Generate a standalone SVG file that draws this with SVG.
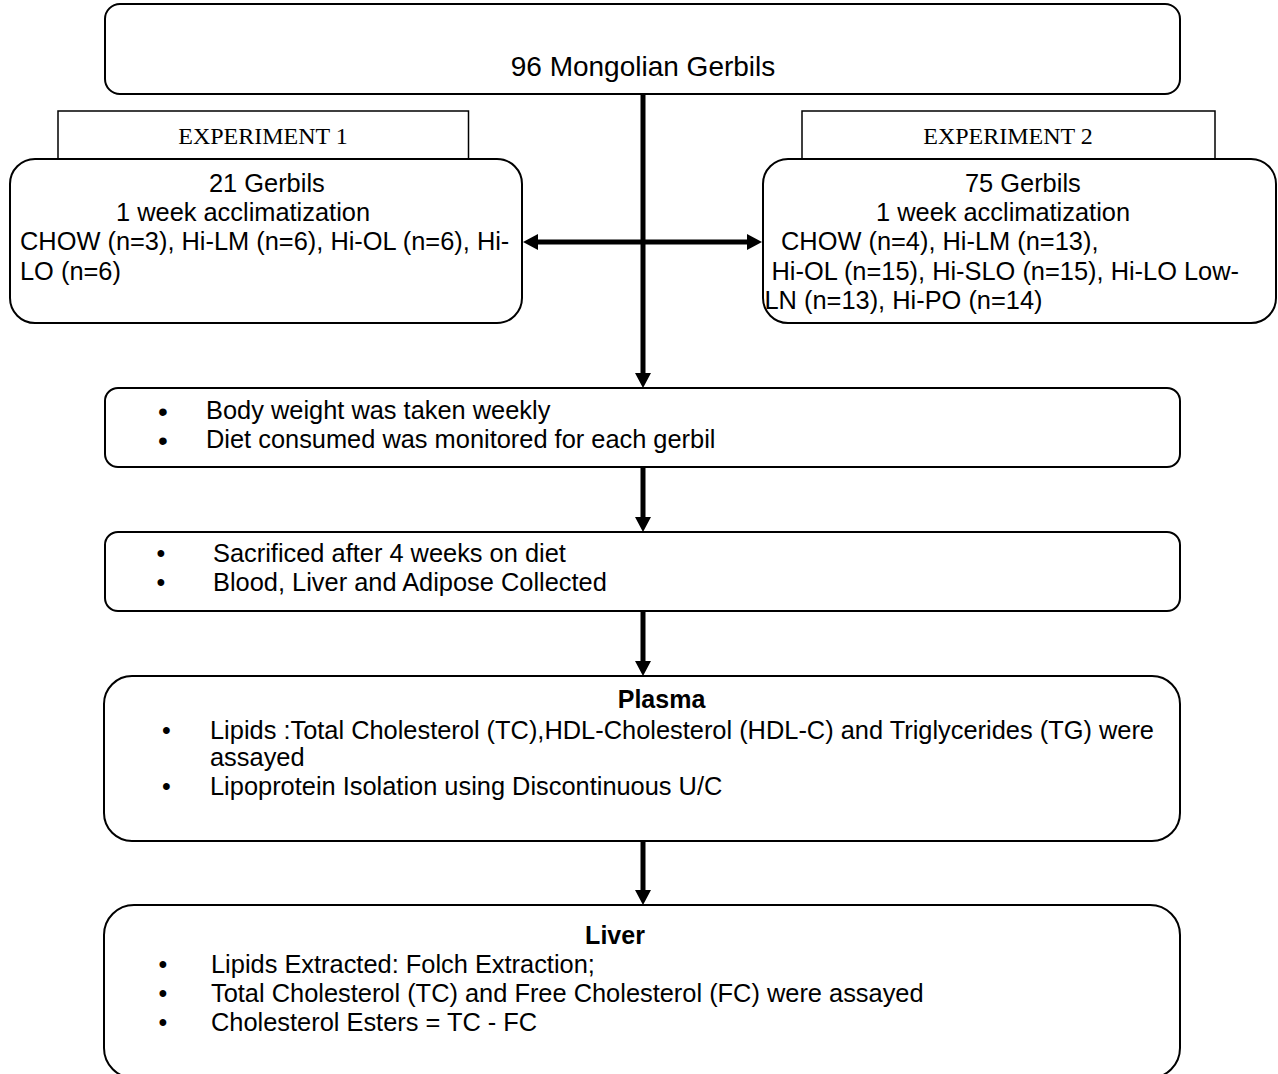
<svg xmlns="http://www.w3.org/2000/svg" width="1278" height="1074" viewBox="0 0 1278 1074">
<style>
.box{fill:#fff;stroke:#000;stroke-width:2}
.hdr{fill:#fff;stroke:#000;stroke-width:1.5}
.t{font-family:"Liberation Sans",Arial,sans-serif;font-size:25.4px;fill:#000}
.b{font-family:"Liberation Sans",Arial,sans-serif;font-size:25px;font-weight:bold;fill:#000}
.title{font-family:"Liberation Sans",Arial,sans-serif;font-size:28px;fill:#000}
.serif{font-family:"Liberation Serif","Times New Roman",serif;font-size:24px;fill:#000}
.bul{font-family:"Liberation Sans",Arial,sans-serif;font-size:25px;fill:#000;text-anchor:middle}
.bulL{font-family:"Liberation Sans",Arial,sans-serif;font-size:28px;fill:#000;text-anchor:middle}
.c{fill:none;stroke:#000;stroke-width:5}
</style>
<defs>
<marker id="ah" markerUnits="userSpaceOnUse" markerWidth="16" markerHeight="16" refX="5" refY="8" orient="auto-start-reverse">
<path d="M0,0 L15,8 L0,16 Z" fill="#000"/>
</marker>
</defs>
<rect width="1278" height="1074" fill="#fff"/>

<g id="connectors">
<line class="c" x1="643" y1="94" x2="643" y2="378" marker-end="url(#ah)"/>
<line class="c" x1="533" y1="242" x2="752" y2="242" marker-start="url(#ah)" marker-end="url(#ah)"/>
<line class="c" x1="643" y1="467" x2="643" y2="522" marker-end="url(#ah)"/>
<line class="c" x1="643" y1="611" x2="643" y2="666" marker-end="url(#ah)"/>
<line class="c" x1="643" y1="841" x2="643" y2="895" marker-end="url(#ah)"/>
</g>

<g id="n-gerbils">
<rect class="box" x="105" y="4" width="1075" height="90" rx="15" ry="15"/>
<text class="title" x="643" y="76" text-anchor="middle">96 Mongolian Gerbils</text>
</g>

<g id="n-exp1">
<rect class="hdr" x="58" y="111" width="410.5" height="48"/>
<text class="serif" x="263" y="144" text-anchor="middle">EXPERIMENT 1</text>
<rect class="box" x="10" y="159" width="512" height="164" rx="25" ry="25"/>
<text class="t" x="209" y="192">21 Gerbils</text>
<text class="t" x="116" y="221">1 week acclimatization</text>
<text class="t" x="20" y="250">CHOW (n=3), Hi-LM (n=6), Hi-OL (n=6), Hi-</text>
<text class="t" x="20" y="280">LO (n=6)</text>
</g>

<g id="n-exp2">
<rect class="hdr" x="802" y="111" width="413" height="48"/>
<text class="serif" x="1008" y="144" text-anchor="middle">EXPERIMENT 2</text>
<rect class="box" x="763" y="159" width="513" height="164" rx="25" ry="25"/>
<text class="t" x="965" y="192">75 Gerbils</text>
<text class="t" x="876" y="221">1 week acclimatization</text>
<text class="t" x="781" y="250">CHOW (n=4), Hi-LM (n=13),</text>
<text class="t" x="771.5" y="280">Hi-OL (n=15), Hi-SLO (n=15), Hi-LO Low-</text>
<text class="t" x="764.5" y="309">LN (n=13), Hi-PO (n=14)</text>
</g>

<g id="n-monitor">
<rect class="box" x="105" y="388" width="1075" height="79" rx="13" ry="13"/>
<text class="bulL" x="163" y="421">•</text>
<text class="bulL" x="163" y="450">•</text>
<text class="t" x="206" y="419">Body weight was taken weekly</text>
<text class="t" x="206" y="448">Diet consumed was monitored for each gerbil</text>
</g>

<g id="n-sacrifice">
<rect class="box" x="105" y="532" width="1075" height="79" rx="13" ry="13"/>
<text class="bul" x="161" y="562">•</text>
<text class="bul" x="161" y="591">•</text>
<text class="t" x="213" y="562">Sacrificed after 4 weeks on diet</text>
<text class="t" x="213" y="591">Blood, Liver and Adipose Collected</text>
</g>

<g id="n-plasma">
<rect class="box" x="104" y="676" width="1076" height="165" rx="28" ry="28"/>
<text class="b" x="661.5" y="708" text-anchor="middle">Plasma</text>
<text class="bul" x="166.5" y="739">•</text>
<text class="bul" x="166.5" y="795">•</text>
<text class="t" x="210" y="739">Lipids :Total Cholesterol (TC),HDL-Cholesterol (HDL-C) and Triglycerides (TG) were</text>
<text class="t" x="210" y="766">assayed</text>
<text class="t" x="210" y="795">Lipoprotein Isolation using Discontinuous U/C</text>
</g>

<g id="n-liver">
<rect class="box" x="104" y="905" width="1076" height="173" rx="30" ry="30"/>
<text class="b" x="615" y="944" text-anchor="middle">Liver</text>
<text class="bul" x="163" y="973">•</text>
<text class="bul" x="163" y="1002">•</text>
<text class="bul" x="163" y="1031">•</text>
<text class="t" x="211" y="973">Lipids Extracted: Folch Extraction;</text>
<text class="t" x="211" y="1002">Total Cholesterol (TC) and Free Cholesterol (FC) were assayed</text>
<text class="t" x="211" y="1031">Cholesterol Esters = TC - FC</text>
</g>
</svg>
